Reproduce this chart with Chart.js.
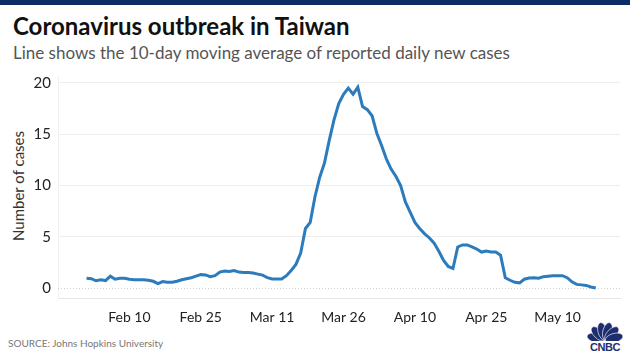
<!DOCTYPE html>
<html>
<head>
<meta charset="utf-8">
<script src="https://cdn.jsdelivr.net/npm/chart.js@4.4.1/dist/chart.umd.min.js"></script>
<style>
    html, body { margin: 0; padding: 0; background: #fff; }
    body { width: 630px; height: 354px; position: relative; overflow: hidden; font-family: Lato, "Open Sans", sans-serif; }
    .topbar { position: absolute; left: 0; top: 0; width: 630px; height: 5px; background: #0c2c68; }
    .title { position: absolute; left: 13px; top: 12px; font-size: 24px; line-height: 28px; font-weight: 700; color: #111; white-space: nowrap; }
    .subtitle { position: absolute; left: 13px; top: 43px; font-size: 17px; line-height: 20px; color: #555; white-space: nowrap; }
    .ytitle { position: absolute; left: 18px; top: 186px; font-size: 15px; color: #333; white-space: nowrap; transform: translate(-50%, -50%) rotate(-90deg); }
    .source { position: absolute; left: 8px; top: 337px; font-size: 10px; color: #777; white-space: nowrap; }
    .logo { position: absolute; left: 584px; top: 321px; width: 42px; }
    .logo svg { display: block; margin: 0 auto; }
    .logo span { display: block; text-align: center; font: 900 11px/11px Arial, sans-serif; color: #1e2d6e; letter-spacing: -0.4px; margin-top: 1px; }
    #wrap { position: absolute; left: 0; top: 0; width: 630px; height: 354px; }
</style>
</head>
<body>
<div class="topbar"></div>
<div class="title">Coronavirus outbreak in Taiwan</div>
<div class="subtitle">Line shows the 10-day moving average of reported daily new cases</div>
<div class="ytitle">Number of cases</div>
<div class="source">SOURCE: Johns Hopkins University</div>
<div class="logo">
    <svg id="peacock" width="38" height="20" viewBox="0 0 38 20"></svg>
    <span>CNBC</span>
</div>
<div id="wrap"><canvas id="chart"></canvas></div>

<script>
// one entry per day, Feb 1 .. May 18 (2020)
const monthNames = ['Feb', 'Mar', 'Apr', 'May'];
const monthDays = [29, 31, 30, 18];

const cases = [
    0.95, 0.9, 0.7, 0.8, 0.72, 1.15, 0.85, 0.95, 0.95, 0.85,
    0.8, 0.8, 0.8, 0.75, 0.65, 0.42, 0.62, 0.55, 0.55, 0.65,
    0.8, 0.9, 1.0, 1.15, 1.3, 1.27, 1.1, 1.2, 1.55, 1.65,
    1.6, 1.7, 1.55, 1.5, 1.5, 1.45, 1.35, 1.25, 1.0, 0.88,
    0.88, 0.88, 1.2, 1.7, 2.3, 3.4, 5.8, 6.4, 8.9, 10.8,
    12.2, 14.4, 16.4, 18.0, 18.9, 19.5, 18.9, 19.6, 17.7, 17.4,
    16.8, 15.1, 13.9, 12.6, 11.6, 10.9, 10.0, 8.4, 7.4, 6.4,
    5.8, 5.3, 4.9, 4.4, 3.6, 2.7, 2.1, 1.9, 4.0, 4.2,
    4.2, 4.0, 3.8, 3.5, 3.6, 3.5, 3.5, 3.2, 1.0, 0.75,
    0.55, 0.5, 0.85, 0.97, 1.0, 0.95, 1.1, 1.15, 1.2, 1.2,
    1.2, 1.0, 0.6, 0.35, 0.3, 0.25, 0.1, 0.0
];

const xTickLabels = ['Feb 10', 'Feb 25', 'Mar 11', 'Mar 26', 'Apr 10', 'Apr 25', 'May 10'];
const yTickValues = [0, 5, 10, 15, 20];

// build "Feb 1", "Feb 2", ... category names
const days = [];
monthNames.forEach((m, i) => {
    for (let d = 1; d <= monthDays[i]; d++) days.push(m + ' ' + d);
});
const xTickIndex = xTickLabels.map(l => days.indexOf(l));

// CNBC peacock: six fat feathers fanned over the base
const svg = document.getElementById('peacock');
for (let i = 0; i < 6; i++) {
    const a = -75 + i * 30;
    const e = document.createElementNS('http://www.w3.org/2000/svg', 'ellipse');
    e.setAttribute('cx', 19);
    e.setAttribute('cy', 10);
    e.setAttribute('rx', 4.6);
    e.setAttribute('ry', 9);
    e.setAttribute('fill', '#1e2d6e');
    e.setAttribute('stroke', '#fff');
    e.setAttribute('stroke-width', 0.6);
    e.setAttribute('transform', `rotate(${a} 19 19.5)`);
    svg.appendChild(e);
}

// dotted zero line, drawn under the data
const frameLines = {
    id: 'frameLines',
    beforeDatasetsDraw(chart) {
        const { ctx, chartArea, scales } = chart;
        const y0 = Math.round(scales.y.getPixelForValue(0)) + 0.5;
        ctx.save();
        ctx.strokeStyle = '#cfcfcf';
        ctx.lineWidth = 1;
        ctx.setLineDash([1, 2]);
        ctx.beginPath();
        ctx.moveTo(chartArea.left, y0);
        ctx.lineTo(chartArea.right, y0);
        ctx.stroke();
        ctx.restore();
    }
};

new Chart(document.getElementById('chart'), {
    type: 'line',
    data: {
        datasets: [{
            label: 'Cases',
            data: cases.map((v, i) => ({ x: i, y: v })),
            borderColor: '#2b7bbd',
            borderWidth: 3,
            pointRadius: 0,
            tension: 0,
            fill: false
        }]
    },
    options: {
        responsive: true,
        maintainAspectRatio: false,
        animation: false,
        layout: { padding: { top: 76, right: 10, bottom: 0, left: 0 } },
        plugins: { legend: { display: false }, tooltip: { enabled: false } },
        scales: {
            x: {
                type: 'linear',
                min: -6,
                max: 112.1,
                afterFit: s => { s.height = 56; },
                afterBuildTicks: s => { s.ticks = xTickIndex.map(v => ({ value: v })); },
                grid: { display: false, drawTicks: false },
                border: { display: true, color: '#e6e6e6' },
                ticks: {
                    autoSkip: false,
                    maxRotation: 0,
                    padding: 11,
                    color: '#222',
                    font: { family: 'Lato', size: 14 },
                    callback: v => xTickLabels[xTickIndex.indexOf(v)]
                }
            },
            y: {
                min: -0.98,
                max: 20.68,
                afterFit: s => { s.width = 58; },
                afterBuildTicks: s => { s.ticks = yTickValues.map(v => ({ value: v })); },
                grid: {
                    drawTicks: false,
                    color: c => c.tick && c.tick.value === 0 ? 'rgba(0,0,0,0)' : '#eeeeee'
                },
                border: { display: true, color: '#f0f0f0' },
                ticks: {
                    padding: 7,
                    color: '#222',
                    font: { family: 'Lato', size: 15 }
                }
            }
        }
    },
    plugins: [frameLines]
});
</script>
</body>
</html>
